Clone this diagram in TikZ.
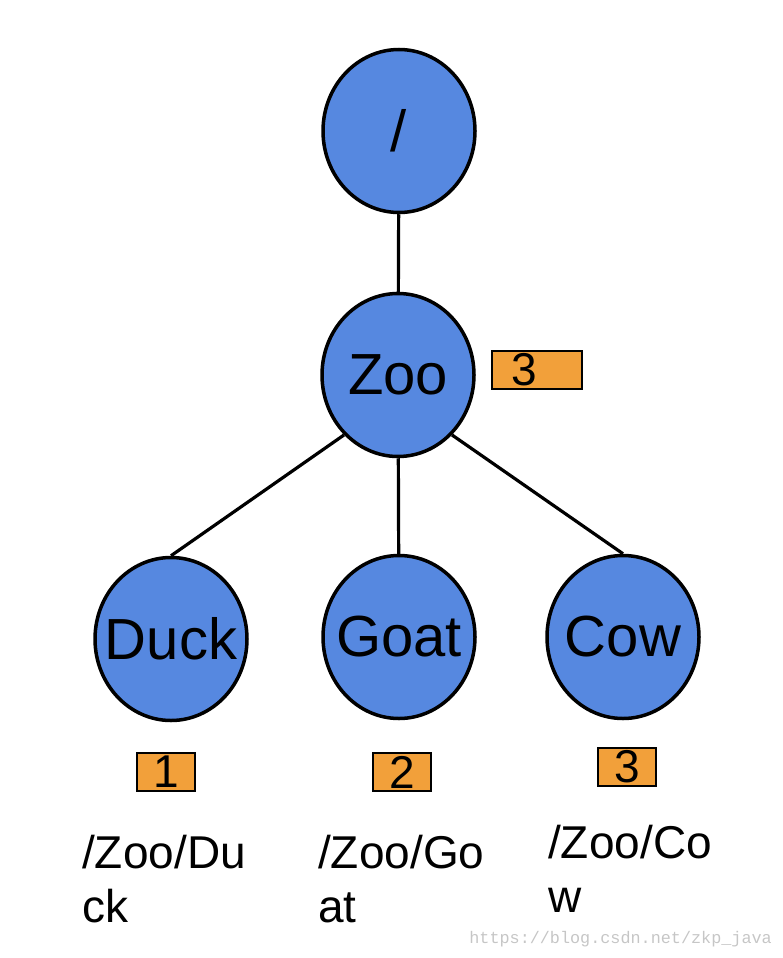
\documentclass[tikz,border=0pt]{standalone}
\usepackage{fontspec}
\setmainfont{Liberation Sans}
\newfontfamily\markfont{Liberation Mono}
\usetikzlibrary{shapes.geometric}
\definecolor{nodeblue}{RGB}{86,136,224}
\definecolor{countorange}{RGB}{242,160,58}
\newcommand\zname[1]{\makebox[0pt][c]{#1}}
\tikzset{
  znode/.style={ellipse,draw=black,line width=3.5pt,fill=nodeblue,
    minimum width=152pt,minimum height=163pt,inner sep=0pt,
    font=\fontsize{58}{58}\selectfont},
  countbox/.style={draw=black,line width=2.8pt,fill=countorange,inner sep=0pt,
    minimum width=58pt,minimum height=38pt,font=\fontsize{46}{46}\selectfont},
  pathlabel/.style={anchor=base west,align=left,inner sep=0pt,
    font=\fontsize{46}{54}\selectfont},
  link/.style={line width=3.2pt}
}

\begin{document}
\begin{tikzpicture}[x=1pt,y=-1pt]
  \useasboundingbox (0,0) rectangle (782,958);

  % TREE
  \node[znode] (root) at (399,131) {\zname{/}};
  \node[znode] (zoo) at (398,375) {\zname{Zoo}};
  \node[znode] (duck) at (171,639) {\zname{Duck}};
  \node[znode] (goat) at (399,637) {\zname{Goat}};
  \node[znode] (cow) at (623,637) {\zname{Cow}};

  \draw[link] (root) -- (zoo);
  \draw[link] (zoo.228) -- (duck.north);
  \draw[link] (zoo) -- (goat);
  \draw[link] (zoo.312) -- (cow.north);

  % COUNTS
  \node[countbox,minimum width=90pt,text width=52pt,inner xsep=19pt,align=left]
    (zoocount) at (537,370) {3};
  \node[countbox] (duckcount) at (166,772) {1};
  \node[countbox] (goatcount) at (402,772) {2};
  \node[countbox] (cowcount) at (627,767) {3};

  % PATHS (base = last line)
  \node[pathlabel] (duckpath) at (82,922) {/Zoo/Du\\ck};
  \node[pathlabel] (goatpath) at (318,922) {/Zoo/Go\\at};
  \node[pathlabel] (cowpath) at (548,912) {/Zoo/Co\\w};

  \node[anchor=base east,inner sep=0pt,text=gray!45,
    font=\markfont\fontsize{16.8}{16.8}\selectfont] (mark) at (772,943)
    {https://blog.csdn.net/zkp\_java};
\end{tikzpicture}
\end{document}
